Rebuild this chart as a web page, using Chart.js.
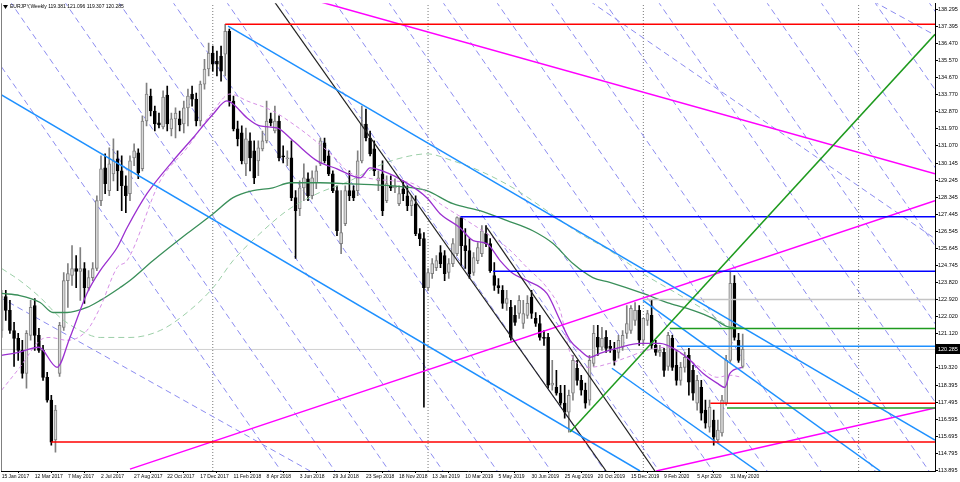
<!DOCTYPE html>
<html>
<head>
<meta charset="utf-8">
<script src="https://cdn.jsdelivr.net/npm/chart.js@4.4.1/dist/chart.umd.min.js"></script>
<style>
  html, body { margin: 0; padding: 0; background: #fff; }
</style>
</head>
<body>
<canvas id="eurjpy" width="960" height="482"></canvas>
<script>
// weekly bars, index 0 = week of 15 Jan 2017
const opens = [121.29,123.09,122.35,121.29,120.87,120.24,119.02,121.03,122.61,121.03,
  120.24,118.81,117.60,115.49,119.02,121.45,123.93,124.20,124.57,124.41,
  124.57,123.56,124.09,124.57,128.16,129.90,128.69,129.58,130.38,129.74,
  128.95,128.53,130.43,130.69,129.85,132.38,133.70,132.91,132.28,132.06,
  133.75,131.96,132.49,132.49,132.22,133.07,133.81,133.54,132.38,134.33,
  135.13,135.97,135.55,135.81,135.92,137.13,133.44,131.96,131.75,130.11,
  131.33,130.80,130.27,130.90,131.33,132.49,131.85,132.38,130.53,130.38,
  130.43,128.32,127.74,128.84,129.32,128.42,129.11,130.11,131.22,130.53,
  129.58,128.69,125.89,126.94,128.69,128.69,128.69,130.27,132.22,131.48,
  130.90,129.21,129.58,128.16,128.95,128.84,128.00,128.79,128.42,127.89,
  128.00,126.42,126.15,123.56,124.30,124.62,125.41,125.25,124.36,124.83,
  125.36,127.26,125.78,125.52,124.36,124.99,125.36,126.42,125.89,124.20,
  123.67,123.41,122.72,122.51,122.09,122.19,121.66,122.09,123.04,121.93,
  121.66,120.92,120.92,118.39,118.28,117.97,117.44,116.96,117.97,119.29,
  118.65,118.13,117.60,119.55,120.92,120.40,120.92,120.45,120.24,120.13,
  120.40,121.14,121.29,121.82,122.35,120.77,121.82,122.09,120.50,120.13,
  120.13,119.39,120.87,119.45,118.65,119.34,119.97,119.18,117.44,118.28,
  117.07,116.17,116.54,115.49,115.86,117.44,119.71,123.78,120.77,119.381];
const highs = [123.41,123.41,122.88,121.72,121.14,120.77,121.29,122.88,122.98,121.40,
  120.50,119.08,117.86,117.33,121.72,124.36,124.83,125.78,125.25,125.68,
  124.88,124.46,124.88,128.42,130.53,130.64,130.96,131.43,130.80,130.53,
  129.48,130.53,131.17,130.90,132.65,134.39,134.07,133.17,132.80,133.97,
  134.23,132.80,133.07,132.91,133.44,134.07,134.23,133.86,134.49,135.65,
  136.50,136.34,136.08,136.34,137.50,137.24,133.70,132.38,132.12,132.01,
  131.75,131.33,131.33,131.85,133.44,132.80,133.17,132.65,131.06,130.80,
  131.33,128.69,129.21,130.11,129.64,129.74,130.01,131.48,131.48,130.80,
  129.74,128.95,128.69,128.95,129.74,128.95,130.80,133.17,133.01,131.85,
  131.33,129.74,130.27,129.48,129.48,129.32,128.95,129.21,128.95,128.42,
  128.42,126.68,126.47,124.57,125.10,125.25,125.78,125.52,125.10,126.15,
  127.31,127.20,126.68,126.15,125.41,125.94,126.84,126.84,126.15,124.88,
  124.04,123.67,123.41,122.88,122.61,123.14,122.88,123.14,123.41,122.24,
  122.09,121.29,121.14,119.71,119.18,118.39,118.39,118.13,119.97,119.71,
  118.92,118.50,119.97,121.56,121.56,121.45,121.29,120.77,120.66,121.03,
  121.29,122.61,122.61,122.77,122.61,121.82,122.35,122.88,120.77,120.50,
  120.34,121.19,121.03,120.24,119.60,120.13,120.34,119.45,118.92,118.65,
  117.60,117.60,117.07,116.54,117.86,119.97,124.43,124.20,121.14,121.096];
const lows = [120.92,121.82,121.14,119.39,119.71,118.76,118.23,120.77,120.24,120.13,
  118.65,117.49,115.22,114.85,118.86,121.29,122.51,123.67,123.56,122.88,
  122.72,123.41,123.93,124.46,127.89,128.53,128.42,129.21,128.69,127.63,
  127.52,128.16,130.01,129.32,129.74,132.12,132.65,131.85,132.01,131.96,
  131.85,131.59,131.48,131.85,131.75,132.12,133.17,132.12,132.12,134.07,
  134.76,135.02,134.76,134.49,134.76,133.17,131.85,131.06,130.11,129.48,
  129.74,129.06,129.48,130.80,131.22,132.12,131.75,130.27,130.16,130.01,
  128.16,125.10,127.37,128.16,128.16,128.26,128.79,130.01,130.16,129.48,
  128.58,126.31,125.36,126.84,128.16,128.16,128.42,130.16,131.33,130.53,
  129.48,128.69,127.37,128.05,128.69,128.58,127.89,128.16,127.63,127.37,
  126.31,125.78,117.23,123.41,124.04,124.46,124.62,123.93,124.04,124.67,
  125.25,124.73,124.57,124.04,124.20,124.83,125.20,125.73,124.36,123.41,
  123.25,122.46,122.35,120.77,121.56,121.93,121.40,121.93,121.93,121.50,
  120.77,120.50,118.23,118.13,117.86,117.33,116.65,115.91,117.60,118.39,
  117.86,117.18,117.33,119.39,119.97,120.24,120.13,120.13,119.45,119.82,
  120.24,120.87,121.14,121.56,120.50,120.50,121.56,120.34,119.97,119.92,
  118.86,119.18,119.18,118.39,118.39,119.08,117.86,117.60,117.07,116.54,
  116.12,115.91,115.22,115.33,115.70,117.33,119.60,120.77,119.60,119.307];
const closes = [123.09,122.35,121.29,120.87,120.24,119.02,121.14,122.51,121.03,120.24,
  118.81,117.60,115.38,117.07,121.56,123.93,124.30,124.57,124.41,124.57,
  123.56,124.09,124.57,128.16,129.85,129.06,130.11,130.27,129.74,128.95,
  128.42,130.27,130.80,129.64,132.38,133.81,132.91,132.22,132.17,133.65,
  132.22,132.49,132.80,132.17,133.07,133.70,133.54,132.38,134.33,135.13,
  135.97,135.39,135.39,135.02,137.13,133.44,131.96,131.43,130.27,131.43,
  130.43,129.37,130.96,131.33,132.38,132.28,132.38,130.43,130.48,130.43,
  128.32,127.63,128.84,129.37,128.42,129.37,129.74,131.33,130.27,129.58,
  128.69,126.57,126.47,128.69,128.42,128.32,130.27,132.22,131.48,130.64,
  129.74,129.37,127.63,129.06,128.84,128.95,128.53,128.53,127.89,128.16,
  126.42,126.15,123.56,124.36,124.83,124.99,124.83,124.30,124.83,125.89,
  127.26,125.78,125.52,124.30,125.15,125.68,126.57,125.89,124.46,123.67,
  123.56,122.72,122.98,120.92,121.72,122.88,122.19,122.72,122.19,121.66,
  120.92,120.87,118.39,118.50,117.97,117.44,116.96,117.86,119.71,118.65,
  118.13,117.44,119.71,121.14,120.40,120.87,120.34,120.34,119.71,120.77,
  121.03,121.66,122.46,122.35,120.77,121.93,122.19,120.50,120.13,120.24,
  119.18,121.03,119.34,118.65,119.34,119.87,118.55,117.97,118.65,116.91,
  116.38,117.23,115.64,116.01,117.60,119.71,123.78,120.92,119.71,120.285];

const dateLabels = ['15 Jan 2017','12 Mar 2017','7 May 2017','2 Jul 2017','27 Aug 2017','22 Oct 2017',
  '17 Dec 2017','11 Feb 2018','8 Apr 2018','3 Jun 2018','29 Jul 2018','23 Sep 2018','18 Nov 2018',
  '13 Jan 2019','10 Mar 2019','5 May 2019','30 Jun 2019','25 Aug 2019','20 Oct 2019','15 Dec 2019',
  '9 Feb 2020','5 Apr 2020','31 May 2020'];
const priceTicks = [138.295,137.395,136.470,135.570,134.670,133.770,132.870,131.970,131.070,130.145,
  129.245,128.345,127.445,126.545,125.645,124.745,123.820,122.920,122.020,121.120,119.320,118.395,
  117.495,116.595,115.695,114.795,113.895];
const yearBreaks = [51, 103, 155, 207];

// moving averages (bar index, price)
const maPurpleX = [0,4,9,13.4,16.5,20.6,23.8,27.9,30.3,35.1,41.4,46.2,51.1,54.4,55.9,59.3,62.4,66.5,70.4,76.2,81,86.6,89,92,97,102.7,105.9,110.7,113.9,117.2,120.4,123.5,126.9,131.7,134.9,137.3,139.7,142.1,144.5,149.4,154.2,159,163.1,166.3,169.4,172.8,174.7,175.9,178.8];
const maPurpleY = [119.97,120.13,120.40,119.34,120.92,123.25,124.46,125.68,126.73,128.53,130.27,131.48,132.75,133.44,133.28,132.54,132.12,132.01,131.33,130.27,129.85,129.37,129.90,129.74,129.21,128.32,127.47,126.73,126.05,125.89,124.99,124.30,123.93,123.25,121.82,120.77,120.24,119.87,120.08,120.40,120.61,120.61,120.24,119.71,119.02,118.50,118.28,119.02,119.34];
const maPinkX = [0,4.4,9.3,11.7,15.8,20.6,23.8,27.9,30.3,38.3,44.8,51.1,55.2,59.3,65.5,70.4,75.2,80.5,83.4,88.2,94.5,99.4,105.9,112.4,117.2,122.1,126.9,131.7,134.9,137.3,142.1,146.9,151.1,155.9,160.7,163.9,168.7,172.8,175.9,178.8];
const maPinkY = [118.13,119.34,120.77,120.92,120.77,121.29,122.51,124.62,124.99,129.21,130.96,132.91,133.81,133.44,132.91,132.22,131.43,130.43,129.74,129.37,129.21,129.06,128.00,127.10,126.42,125.68,124.62,123.56,122.35,120.13,119.34,119.55,119.87,120.24,120.40,120.08,119.34,118.81,118.92,118.81];
const maGreenX = [0,4.4,9.3,12.4,15.8,20.6,23.8,28.6,31,36.6,44.8,51.1,55.9,60.7,65.5,69.7,76.9,83.4,99.4,102.7,109,115.5,122.1,128.3,133.2,138,142.8,146.9,154.9,161.4,167,171.8,175.2,178.8];
const maGreenY = [123.25,123.14,122.77,122.24,122.24,122.51,122.88,123.56,123.93,124.99,126.42,127.47,128.32,128.69,128.84,129.11,129.11,129.06,128.84,128.69,128.00,127.63,127.10,126.57,125.89,124.83,124.09,123.83,123.25,122.72,122.35,121.93,121.50,121.40];
const maLightX = [0,4.4,9.3,14.1,18.9,23.8,31,38.3,44.8,51.1,55.9,62.4,68.9,76.2,84.1,92.1,98.6,102.7,109,115.5,123.5,131.7,139.7,146.9,154.9,163.1,171.1,175.2,178.8];
const maLightY = [124.57,123.93,123.04,121.98,121.29,120.92,120.92,121.29,122.24,123.56,124.99,126.42,127.63,128.53,129.21,130.11,130.53,130.64,130.27,129.74,128.84,127.63,126.42,125.52,124.30,123.25,122.19,121.56,121.45];

// drawn objects: [barFrom, priceFrom, barTo, priceTo]
const redLines = [[54, 137.50, 226, 137.50], [12, 115.38, 226, 115.38], [171.2, 117.44, 226, 117.44]];
const greenLines = [[161.4, 121.40, 226, 121.40], [175.2, 117.18, 226, 117.18], [137.3, 115.91, 225.45, 136.97]];
const blueLevels = [[110.8, 127.31, 226, 127.31], [118.7, 124.43, 226, 124.43]];
const skyLines = [[-0.4, 133.81, 154.2, 113.85], [54.7, 137.40, 225.45, 115.49], [154.9, 122.88, 212.2, 113.85],
  [147.4, 119.29, 182.5, 113.85], [163.1, 120.45, 226, 120.45]];
const blackLines = [[65.8, 138.72, 146.0, 113.85], [117.2, 126.73, 157.8, 113.85]];
const magentaLines = [[31.0, 113.95, 225.45, 128.16], [76.4, 138.72, 225.45, 129.58], [158.1, 113.85, 225.45, 117.18]];
const grayLevels = [[154.9, 122.93, 226, 122.93]];
const fanTop = [-11.0,2.0,15.1,28.1,41.2,54.2,67.2,80.3,93.3,106.4,119.4,132.5,145.5,158.5,171.6,184.6,197.7,210.7,223.8];
const fanBottom = [67.5,80.5,93.6,106.6,119.7,132.7,145.7,158.8,171.8,184.9,197.9,211.0,224.0,237.0,250.1,263.1,276.2,289.2,302.3];
const shallowDash = [[-0.4, 123.04, 74.5, 113.85], [142.1, 138.72, 225.45, 126.15], [210.5, 138.72, 225.45, 136.92]];

const lastPrice = closes[closes.length - 1];

function seg(s, color, width, dash, order) {
  return {
    type: 'line',
    data: [{ x: s[0], y: s[1] }, { x: s[2], y: s[3] }],
    borderColor: color, borderWidth: width, borderDash: dash || [],
    pointRadius: 0, fill: false, tension: 0, order: order, clip: 0
  };
}
function ma(xs, ys, color, width, dash, order) {
  return {
    type: 'line',
    data: xs.map((x, i) => ({ x: x, y: ys[i] })),
    borderColor: color, borderWidth: width, borderDash: dash || [],
    pointRadius: 0, fill: false, cubicInterpolationMode: 'monotone', order: order, clip: 0
  };
}

const bull = closes.map((c, i) => c >= opens[i]);
const datasets = [];

redLines.forEach(s => datasets.push(seg(s, '#ff0000', 1.5, null, 2)));
greenLines.forEach(s => datasets.push(seg(s, '#1e9a1e', 1.5, null, 2)));
blueLevels.forEach(s => datasets.push(seg(s, '#0000ff', 1.5, null, 2)));
skyLines.forEach(s => datasets.push(seg(s, '#1e90ff', 1.5, null, 2)));
blackLines.forEach(s => datasets.push(seg(s, '#222222', 1.2, null, 2)));
magentaLines.forEach(s => datasets.push(seg(s, '#ff00ff', 1.5, null, 2)));
grayLevels.forEach(s => datasets.push(seg(s, '#c4c4c4', 1.5, null, 2)));

datasets.push(ma(maPurpleX, maPurpleY, '#9b30d0', 1.3, null, 3));
datasets.push(ma(maPinkX, maPinkY, '#d68fe6', 1, [4, 3], 3));
datasets.push(ma(maGreenX, maGreenY, '#3a8f5a', 1.3, null, 3));
datasets.push(ma(maLightX, maLightY, '#9ccfa8', 1, [6, 4], 3));

datasets.push({
  type: 'bar',
  data: closes.map((c, i) => ({ x: i, y: [opens[i], c] })),
  backgroundColor: bull.map(b => b ? '#d8d8d8' : '#000000'),
  borderColor: bull.map(b => b ? '#808080' : '#000000'),
  borderWidth: 1, borderSkipped: false, barThickness: 3, minBarLength: 1,
  grouped: false, order: 4
});
datasets.push({
  type: 'bar',
  data: lows.map((l, i) => ({ x: i, y: [l, highs[i]] })),
  backgroundColor: bull.map(b => b ? '#808080' : '#000000'),
  borderWidth: 0, barThickness: 1, grouped: false, order: 5
});

fanTop.forEach((t, k) => datasets.push(seg([t, 138.72, fanBottom[k], 113.85], '#8c8cf0', 1, [6, 4], 6)));
shallowDash.forEach(s => datasets.push(seg(s, '#8c8cf0', 1, [6, 4], 6)));
yearBreaks.forEach(b => datasets.push(seg([b, 113.85, b, 138.72], '#777777', 1, [1, 2], 7)));
datasets.push(seg([-1, lastPrice, 226, lastPrice], '#d0d0d0', 1, null, 7));

const overlay = {
  id: 'overlay',
  afterDraw(chart) {
    const c = chart.ctx, a = chart.chartArea, y = chart.scales.y;
    c.save();
    c.strokeStyle = '#808080';
    c.lineWidth = 1;
    c.beginPath(); c.moveTo(a.left + 0.5, a.top); c.lineTo(a.left + 0.5, a.bottom); c.stroke();
    // title
    c.fillStyle = '#000';
    c.beginPath(); c.moveTo(3, 5); c.lineTo(8, 5); c.lineTo(5.5, 9); c.closePath(); c.fill();
    c.font = '5px "Liberation Sans"';
    c.textBaseline = 'middle';
    c.fillText('EURJPY,Weekly 119.381 121.096 119.307 120.285', 10, 7);
    // current price box
    const py = Math.round(y.getPixelForValue(lastPrice));
    c.fillStyle = '#000';
    c.fillRect(a.right + 1, py - 5, 24, 10);
    c.fillStyle = '#fff';
    c.font = '5.5px "Liberation Sans"';
    c.fillText(lastPrice.toFixed(3), a.right + 3, py);
    c.restore();
  }
};

new Chart(document.getElementById('eurjpy'), {
  type: 'bar',
  data: { datasets: datasets },
  plugins: [overlay],
  options: {
    responsive: false,
    animation: false,
    devicePixelRatio: 1,
    events: [],
    layout: { padding: { left: 1, top: 2, right: 0, bottom: 0 } },
    plugins: { legend: { display: false }, tooltip: { enabled: false } },
    scales: {
      x: {
        type: 'linear', position: 'bottom', min: -0.155, max: 225.45, offset: false,
        afterBuildTicks: s => { s.ticks = dateLabels.map((d, k) => ({ value: k * 8 })); },
        afterFit: s => { s.height = 11; },
        grid: { display: true, drawOnChartArea: false, drawTicks: true, tickLength: 2, color: '#000' },
        border: { display: true, color: '#000' },
        ticks: {
          autoSkip: false, maxRotation: 0, align: 'start', padding: 1, color: '#000',
          font: { family: 'Liberation Sans', size: 5 },
          callback: v => dateLabels[Math.round(v / 8)] || ''
        }
      },
      y: {
        type: 'linear', position: 'right', min: 113.85, max: 138.61,
        afterBuildTicks: s => { s.ticks = priceTicks.map(v => ({ value: v })); },
        afterFit: s => { s.width = 25; },
        grid: { display: true, drawOnChartArea: false, drawTicks: true, tickLength: 3, color: '#000' },
        border: { display: true, color: '#000' },
        ticks: {
          autoSkip: false, padding: 0, color: '#000',
          font: { family: 'Liberation Sans', size: 5.5 },
          callback: v => v.toFixed(3)
        }
      }
    }
  }
});
</script>
</body>
</html>
